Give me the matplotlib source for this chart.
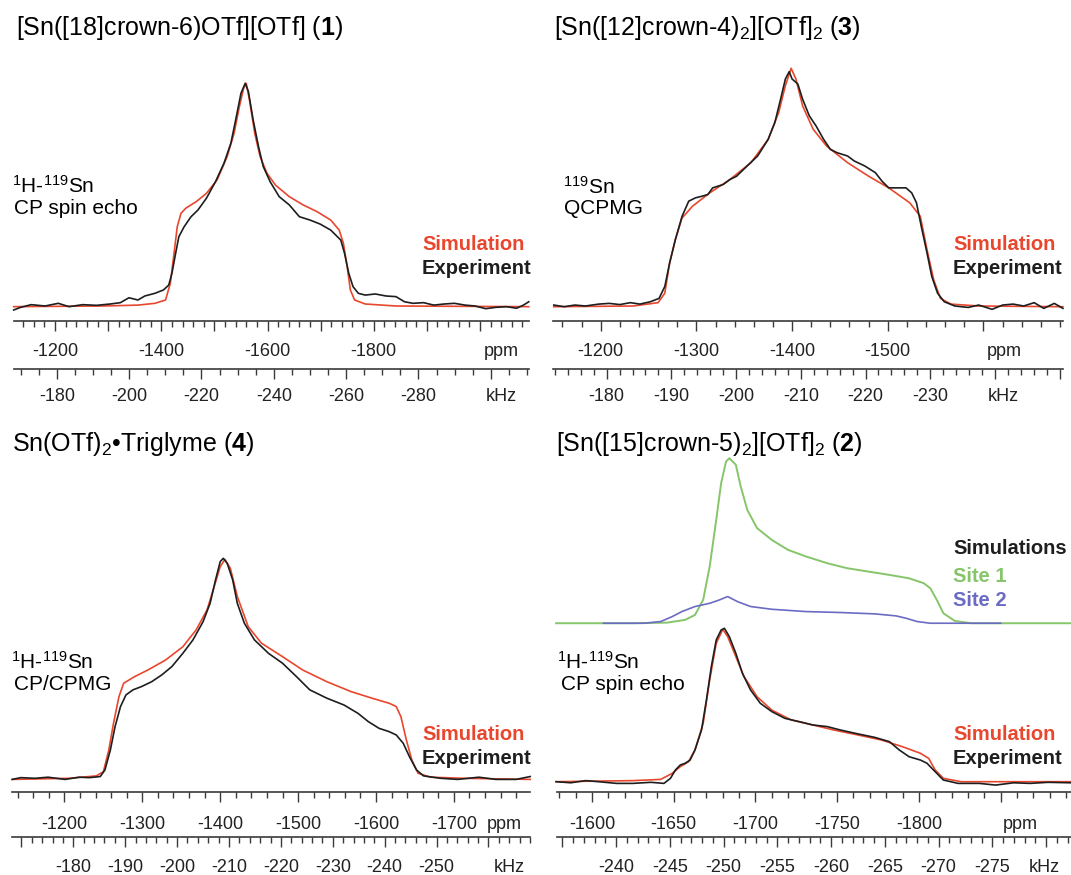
import matplotlib
matplotlib.use('Agg')
import matplotlib.pyplot as plt
import numpy as np
from matplotlib.ticker import MultipleLocator, FuncFormatter

plt.rcParams['font.family'] = 'Liberation Sans'
plt.rcParams['mathtext.fontset'] = 'custom'
plt.rcParams['mathtext.rm'] = 'Liberation Sans'
plt.rcParams['mathtext.it'] = 'Liberation Sans:italic'
plt.rcParams['mathtext.bf'] = 'Liberation Sans:bold'

W, H = 1071, 875
RED = '#e8472d'
BLACK = '#1e1e1e'
GREEN = '#86c56a'
BLUE = '#6b6bc4'
AXC = '#3a3a3a'

# ---- spectra: (ppm, normalised intensity) ----
# [Sn([18]crown-6)OTf][OTf] (1)
p1_exp = np.array([
    (-1122, -0.018), (-1135, -0.006), (-1155, 0.006), (-1181, 0.0), (-1206, 0.012),
    (-1226, -0.003), (-1252, 0.006), (-1278, 0.003), (-1304, 0.009), (-1323, 0.015),
    (-1339, 0.037), (-1356, 0.027), (-1369, 0.045), (-1388, 0.057), (-1404, 0.072),
    (-1414, 0.094), (-1420, 0.147), (-1427, 0.237), (-1433, 0.311), (-1443, 0.356),
    (-1456, 0.401), (-1469, 0.431), (-1485, 0.484), (-1502, 0.558), (-1518, 0.641),
    (-1531, 0.731), (-1540, 0.835), (-1550, 0.955), (-1558, 1.0), (-1564, 0.963),
    (-1573, 0.835), (-1583, 0.716), (-1592, 0.626), (-1605, 0.558), (-1622, 0.491),
    (-1641, 0.454), (-1660, 0.401), (-1680, 0.386), (-1699, 0.368), (-1719, 0.341),
    (-1738, 0.296), (-1745, 0.237), (-1753, 0.147), (-1761, 0.087), (-1771, 0.057),
    (-1784, 0.049), (-1803, 0.054), (-1823, 0.045), (-1842, 0.042), (-1858, 0.019),
    (-1874, 0.012), (-1894, 0.015), (-1913, 0.004), (-1933, 0.009), (-1952, 0.012),
    (-1972, 0.004), (-1991, 0.0), (-2011, -0.012), (-2030, -0.006), (-2050, -0.003),
    (-2069, -0.010), (-2082, 0.004), (-2092, 0.019)])
p1_sim = np.array([
    (-1122, -0.003), (-1291, 0.0), (-1356, 0.004), (-1388, 0.012), (-1408, 0.027),
    (-1417, 0.102), (-1424, 0.237), (-1430, 0.356), (-1437, 0.416), (-1446, 0.439),
    (-1466, 0.469), (-1485, 0.506), (-1505, 0.566), (-1524, 0.671), (-1537, 0.775),
    (-1547, 0.895), (-1555, 0.978), (-1560, 1.0), (-1566, 0.925), (-1576, 0.775),
    (-1586, 0.671), (-1599, 0.596), (-1615, 0.543), (-1641, 0.491), (-1667, 0.454),
    (-1693, 0.424), (-1719, 0.386), (-1735, 0.341), (-1743, 0.281), (-1750, 0.177),
    (-1756, 0.072), (-1764, 0.027), (-1784, 0.009), (-1842, 0.0), (-2092, -0.003)])

# [Sn([12]crown-4)2][OTf]2 (3)
p3_exp = np.array([
    (-1151, 0.004), (-1162, -0.003), (-1173, 0.004), (-1184, 0.0), (-1198, 0.008),
    (-1209, 0.011), (-1220, 0.006), (-1231, 0.014), (-1241, 0.008), (-1252, 0.018),
    (-1261, 0.032), (-1267, 0.082), (-1272, 0.180), (-1278, 0.279), (-1285, 0.377),
    (-1292, 0.441), (-1299, 0.455), (-1306, 0.462), (-1312, 0.469), (-1317, 0.497),
    (-1328, 0.511), (-1335, 0.532), (-1342, 0.546), (-1353, 0.589), (-1364, 0.631),
    (-1375, 0.701), (-1382, 0.772), (-1388, 0.870), (-1393, 0.955), (-1397, 0.986),
    (-1400, 0.955), (-1406, 0.934), (-1411, 0.870), (-1418, 0.800), (-1425, 0.758),
    (-1433, 0.701), (-1440, 0.659), (-1447, 0.645), (-1458, 0.631), (-1465, 0.610),
    (-1476, 0.589), (-1487, 0.561), (-1494, 0.525), (-1501, 0.497), (-1512, 0.497),
    (-1519, 0.497), (-1525, 0.476), (-1530, 0.434), (-1535, 0.335), (-1541, 0.223),
    (-1546, 0.124), (-1552, 0.054), (-1559, 0.018), (-1570, 0.0), (-1584, -0.006),
    (-1595, 0.004), (-1609, -0.014), (-1620, 0.004), (-1631, 0.008), (-1642, 0.0),
    (-1653, 0.014), (-1663, -0.010), (-1674, 0.011), (-1683, -0.010)])
p3_sim = np.array([
    (-1151, -0.003), (-1234, 0.0), (-1260, 0.014), (-1267, 0.054), (-1272, 0.180),
    (-1278, 0.279), (-1285, 0.370), (-1296, 0.420), (-1314, 0.476), (-1335, 0.532),
    (-1357, 0.603), (-1375, 0.701), (-1386, 0.814), (-1393, 0.927), (-1399, 1.0),
    (-1404, 0.955), (-1411, 0.842), (-1422, 0.744), (-1436, 0.673), (-1458, 0.603),
    (-1480, 0.546), (-1501, 0.497), (-1523, 0.434), (-1534, 0.377), (-1541, 0.237),
    (-1548, 0.110), (-1555, 0.032), (-1566, 0.008), (-1595, 0.0), (-1683, -0.003)])

# Sn(OTf)2 . Triglyme (4)
p4_exp = np.array([
    (-1133, -0.005), (-1144, 0.003), (-1162, 0.0), (-1179, 0.005), (-1201, -0.005),
    (-1219, 0.005), (-1232, 0.003), (-1246, 0.008), (-1252, 0.038), (-1259, 0.129),
    (-1265, 0.235), (-1272, 0.326), (-1279, 0.379), (-1288, 0.402), (-1299, 0.417),
    (-1312, 0.439), (-1325, 0.470), (-1338, 0.508), (-1352, 0.568), (-1365, 0.629),
    (-1378, 0.712), (-1387, 0.795), (-1394, 0.902), (-1400, 0.985), (-1404, 1.0),
    (-1409, 0.977), (-1416, 0.902), (-1422, 0.795), (-1431, 0.705), (-1444, 0.629),
    (-1462, 0.568), (-1480, 0.523), (-1498, 0.462), (-1515, 0.402), (-1537, 0.364),
    (-1559, 0.333), (-1577, 0.295), (-1590, 0.258), (-1604, 0.227), (-1617, 0.212),
    (-1626, 0.197), (-1635, 0.159), (-1643, 0.098), (-1652, 0.038), (-1661, 0.011),
    (-1683, 0.0), (-1705, -0.005), (-1732, 0.005), (-1754, -0.005), (-1780, -0.005),
    (-1798, 0.008)])
p4_sim = np.array([
    (-1133, -0.005), (-1206, 0.0), (-1241, 0.011), (-1250, 0.030), (-1257, 0.129),
    (-1263, 0.250), (-1270, 0.371), (-1276, 0.432), (-1290, 0.462), (-1307, 0.492),
    (-1330, 0.538), (-1352, 0.598), (-1369, 0.674), (-1383, 0.765), (-1391, 0.856),
    (-1400, 0.962), (-1406, 0.995), (-1413, 0.955), (-1422, 0.826), (-1436, 0.689),
    (-1453, 0.614), (-1480, 0.553), (-1506, 0.492), (-1537, 0.439), (-1568, 0.394),
    (-1595, 0.364), (-1617, 0.341), (-1626, 0.326), (-1632, 0.280), (-1639, 0.174),
    (-1646, 0.083), (-1654, 0.023), (-1670, 0.005), (-1714, 0.0), (-1798, -0.005)])

# [Sn([15]crown-5)2][OTf]2 (2)
p2_exp = np.array([
    (-1578, 0.0), (-1587, -0.007), (-1596, 0.007), (-1604, 0.0), (-1615, -0.011),
    (-1625, -0.011), (-1636, -0.004), (-1644, -0.011), (-1648, 0.022), (-1651, 0.076),
    (-1654, 0.109), (-1657, 0.120), (-1660, 0.141), (-1663, 0.207), (-1667, 0.337),
    (-1670, 0.533), (-1673, 0.750), (-1676, 0.924), (-1679, 0.989), (-1681, 1.0),
    (-1684, 0.946), (-1688, 0.837), (-1692, 0.707), (-1697, 0.598), (-1703, 0.511),
    (-1710, 0.457), (-1718, 0.413), (-1727, 0.391), (-1735, 0.370), (-1744, 0.359),
    (-1752, 0.337), (-1763, 0.311), (-1773, 0.289), (-1782, 0.261), (-1788, 0.207),
    (-1794, 0.163), (-1801, 0.141), (-1805, 0.120), (-1810, 0.065), (-1815, 0.011),
    (-1824, -0.011), (-1837, -0.011), (-1847, -0.022), (-1858, -0.007), (-1868, -0.011),
    (-1879, -0.004), (-1893, -0.007)])
p2_sim = np.array([
    (-1578, 0.0), (-1604, 0.004), (-1625, 0.007), (-1642, 0.015), (-1649, 0.054),
    (-1654, 0.098), (-1659, 0.130), (-1663, 0.207), (-1668, 0.380), (-1672, 0.663),
    (-1676, 0.902), (-1680, 0.993), (-1683, 0.946), (-1688, 0.815), (-1693, 0.685),
    (-1701, 0.554), (-1710, 0.467), (-1722, 0.402), (-1735, 0.370), (-1748, 0.337),
    (-1763, 0.304), (-1777, 0.272), (-1790, 0.228), (-1801, 0.185), (-1806, 0.152),
    (-1810, 0.076), (-1815, 0.022), (-1826, 0.0), (-1858, 0.0), (-1893, 0.0)])
p2_site1 = np.array([
    (-1578, 0.0), (-1625, 0.0), (-1646, 0.004), (-1657, 0.022), (-1663, 0.054),
    (-1668, 0.152), (-1672, 0.370), (-1676, 0.674), (-1679, 0.913), (-1682, 1.054),
    (-1684, 1.076), (-1688, 1.033), (-1691, 0.891), (-1695, 0.739), (-1701, 0.620),
    (-1710, 0.543), (-1720, 0.478), (-1731, 0.435), (-1744, 0.391), (-1756, 0.359),
    (-1769, 0.337), (-1782, 0.315), (-1794, 0.293), (-1803, 0.261), (-1807, 0.228),
    (-1811, 0.152), (-1815, 0.065), (-1822, 0.015), (-1832, 0.0), (-1893, 0.0)])
p2_site2 = np.array([
    (-1607, 0.0), (-1632, 0.0), (-1642, 0.011), (-1649, 0.043), (-1655, 0.076),
    (-1663, 0.109), (-1672, 0.130), (-1678, 0.152), (-1683, 0.174), (-1689, 0.141),
    (-1697, 0.109), (-1710, 0.091), (-1731, 0.076), (-1752, 0.070), (-1773, 0.061),
    (-1786, 0.048), (-1792, 0.033), (-1799, 0.011), (-1807, 0.0), (-1850, 0.0)])
site_offset = 1.033

# labelled tick values
p1_ppm_labels = [-1200, -1400, -1600, -1800]
p1_khz_labels = [-180, -200, -220, -240, -260, -280]
p3_ppm_labels = [-1200, -1300, -1400, -1500]
p3_khz_labels = [-180, -190, -200, -210, -220, -230]
p4_ppm_labels = [-1200, -1300, -1400, -1500, -1600, -1700]
p4_khz_labels = [-180, -190, -200, -210, -220, -230, -240, -250]
p2_ppm_labels = [-1600, -1650, -1700, -1750, -1800]
p2_khz_labels = [-240, -245, -250, -255, -260, -265, -270, -275]

TICK_FS = 13
MAJ_LEN = 7.5

fig = plt.figure(figsize=(W / 100, H / 100), dpi=100)


def ftext(x, y, s, **kw):
    fig.text(x / W, 1 - y / H, s, **kw)


def labeller(values):
    def fmt(v, pos):
        for l in values:
            if abs(v - l) < 0.01:
                return '%d' % l
        return ''
    return FuncFormatter(fmt)


def make_panel(x0, x1, y_axis, y_khz, y_base, y_peak, y_top, ppm_lim, khz_map,
               ppm_steps, khz_steps, ppm_labels, khz_labels, pads, units):
    ax = fig.add_axes([x0 / W, 1 - y_axis / H, (x1 - x0) / W, (y_axis - y_top) / H])
    upp = y_base - y_peak
    ax.set_ylim(-(y_axis - y_base) / upp, (y_base - y_top) / upp)
    ax.set_xlim(*ppm_lim)
    ax.patch.set_alpha(0)
    for s in ['top', 'left', 'right']:
        ax.spines[s].set_visible(False)
    ax.yaxis.set_visible(False)
    ax.spines['bottom'].set_color(AXC)
    ax.spines['bottom'].set_linewidth(1.2)

    k0, p0, slope = khz_map
    fwd = lambda p: k0 + slope * (p - p0)
    inv = lambda k: p0 + (k - k0) / slope
    sec = ax.secondary_xaxis(-(y_khz - y_axis) / (y_axis - y_top), functions=(fwd, inv))
    sec.spines['bottom'].set_color(AXC)
    sec.spines['bottom'].set_linewidth(1.2)

    for a, steps, labels, pad, y_line, (ux, us) in [
            (ax, ppm_steps, ppm_labels, pads[0], y_axis, units[0]),
            (sec, khz_steps, khz_labels, pads[1], y_khz, units[1])]:
        a.xaxis.set_major_locator(MultipleLocator(steps[0]))
        a.xaxis.set_minor_locator(MultipleLocator(steps[1]))
        a.xaxis.set_major_formatter(labeller(labels))
        a.tick_params(axis='x', which='major', direction='out', length=MAJ_LEN, width=1.0,
                      color=AXC, labelsize=TICK_FS, pad=pad, labelcolor='#222222')
        a.tick_params(axis='x', which='minor', direction='out', length=4, width=1.0, color=AXC)
        # unit word sits on the tick-label row
        ftext(ux, y_line + (MAJ_LEN + pad) * 100 / 72, us, fontsize=TICK_FS,
              ha='center', va='top', color='#222222')
    return ax


def plot_pair(ax, sim, exp):
    ax.plot(sim[:, 0], sim[:, 1], color=RED, lw=1.2, clip_on=False)
    ax.plot(exp[:, 0], exp[:, 1], color=BLACK, lw=1.2, clip_on=False)


TOP_PADS = (8.5, 6.5)
BOT_PADS = (10.0, 8.0)

# panel 1 (top left)
ax1 = make_panel(13.8, 528.6, 321, 369, 306, 83.3, 45, (-1122.2, -2091.7),
                 (-180, -1203.2, 0.14684), (100, 20), (20, 5), p1_ppm_labels, p1_khz_labels,
                 TOP_PADS, ((501, 'ppm'), (501, 'kHz')))
plot_pair(ax1, p1_sim, p1_exp)

# panel 3 (top right)
ax3 = make_panel(553.5, 1063, 321, 369, 306, 68.3, 45, (-1150.7, -1683.1),
                 (-180, -1206.2, 0.14784), (100, 20), (10, 2), p3_ppm_labels, p3_khz_labels,
                 TOP_PADS, ((1004, 'ppm'), (1003, 'kHz')))
plot_pair(ax3, p3_sim, p3_exp)

# panel 4 (bottom left)
ax4 = make_panel(12, 530.3, 791.7, 837, 778.3, 558.3, 490, (-1132.7, -1798.1),
                 (-180, -1211.4, 0.15009), (100, 20), (10, 2), p4_ppm_labels, p4_khz_labels,
                 BOT_PADS, ((504, 'ppm'), (509, 'kHz')))
plot_pair(ax4, p4_sim, p4_exp)

# panel 2 (bottom right)
ax2 = make_panel(556.9, 1071, 791.7, 837, 781.7, 628.3, 445, (-1578.5, -1893.1),
                 (-240, -1614.8, 0.15204), (50, 10), (5, 1), p2_ppm_labels, p2_khz_labels,
                 BOT_PADS, ((1020, 'ppm'), (1044, 'kHz')))
ax2.plot(p2_site1[:, 0], p2_site1[:, 1] + site_offset, color=GREEN, lw=1.4, clip_on=False)
ax2.plot(p2_site2[:, 0], p2_site2[:, 1] + site_offset, color=BLUE, lw=1.2, clip_on=False)
plot_pair(ax2, p2_sim, p2_exp)

# titles
tfs = 18
ftext(15.5, 35, r'[Sn([18]crown-6)OTf][OTf] ($\mathbf{1}$)', fontsize=tfs, va='baseline')
ftext(554, 35, r'[Sn([12]crown-4)$_2$][OTf]$_2$ ($\mathbf{3}$)', fontsize=tfs, va='baseline')
ftext(12, 451, r'Sn(OTf)$_2$•Triglyme ($\mathbf{4}$)', fontsize=tfs, va='baseline')
ftext(556, 451, r'[Sn([15]crown-5)$_2$][OTf]$_2$ ($\mathbf{2}$)', fontsize=tfs, va='baseline')

# method annotations
afs = 15
ftext(12, 186, r'$^{1}$H-$^{119}$Sn', fontsize=afs, va='center')
ftext(14, 208, 'CP spin echo', fontsize=afs, va='center')
ftext(563, 187, r'$^{119}$Sn', fontsize=afs, va='center')
ftext(564, 209, 'QCPMG', fontsize=afs, va='center')
ftext(11, 662, r'$^{1}$H-$^{119}$Sn', fontsize=afs, va='center')
ftext(14, 685, 'CP/CPMG', fontsize=afs, va='center')
ftext(557, 662, r'$^{1}$H-$^{119}$Sn', fontsize=afs, va='center')
ftext(561, 685, 'CP spin echo', fontsize=afs, va='center')

# legends as coloured words
lfs = 14.5
for lx, ly in [(422, 245), (953, 245), (422, 734), (953, 734)]:
    ftext(lx, ly, 'Simulation', fontsize=lfs, fontweight='bold', color=RED, va='center')
    ftext(lx, ly + 24, 'Experiment', fontsize=lfs, fontweight='bold', color=BLACK, va='center')
ftext(953, 549, 'Simulations', fontsize=lfs, fontweight='bold', color=BLACK, va='center')
ftext(953, 577, 'Site 1', fontsize=lfs, fontweight='bold', color=GREEN, va='center')
ftext(953, 601, 'Site 2', fontsize=lfs, fontweight='bold', color=BLUE, va='center')

fig.savefig('out.png', dpi=100)
